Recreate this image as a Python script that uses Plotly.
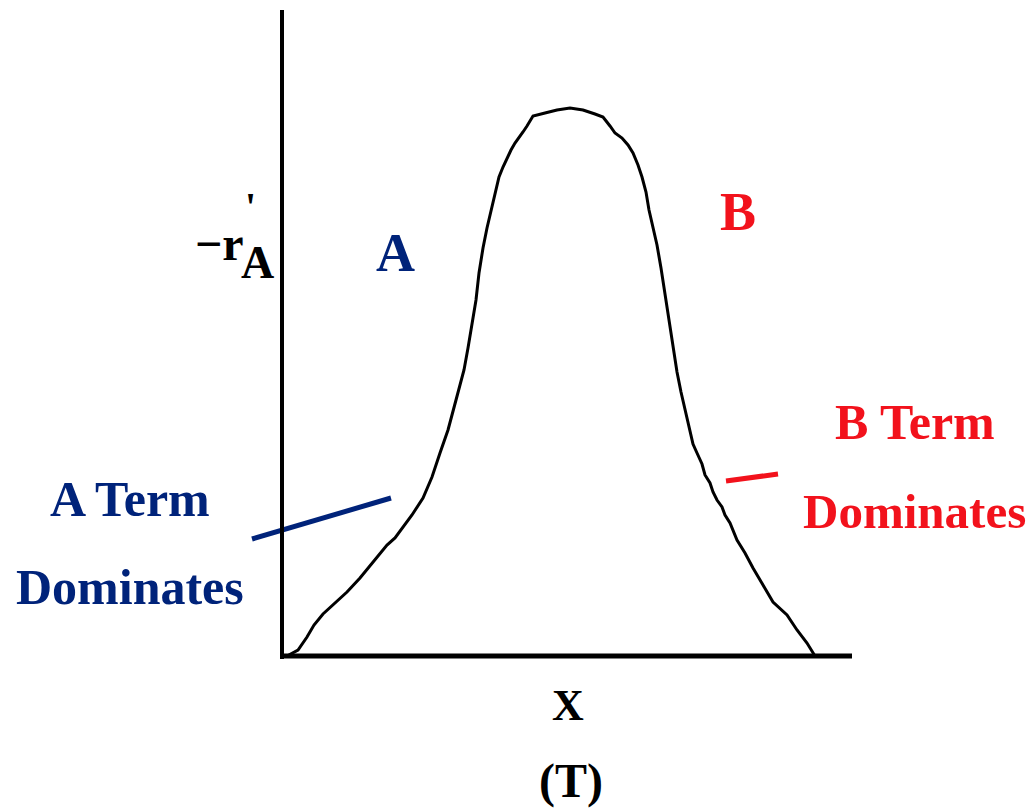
import plotly.graph_objects as go

# ---- data (units: pixels from the axis origin) ----
conversion = [4, 15, 24, 31, 40, 52, 64, 77, 90, 104, 112, 122, 129, 140, 149, 157, 165, 173, 181, 185,
              189, 193, 196, 200, 204, 208, 212, 216, 220, 224, 228, 232, 236, 240, 244, 250, 262, 274, 287, 300,
              312, 320, 327, 332, 339, 345, 350, 355, 359, 363, 366, 370, 374, 378, 382, 386, 390, 394, 398, 402,
              406, 410, 414, 419, 422, 427, 430, 434, 439, 442, 447, 454, 462, 470, 480, 490, 504, 514, 524, 532]
rate = [0, 6, 19, 31, 42, 53, 64, 78, 94, 111, 118, 131, 141, 158, 179, 203, 226, 256, 286, 308,
        331, 356, 383, 408, 428, 446, 464, 479, 489, 498, 506, 513, 518, 524, 530, 540, 543, 546, 548, 546,
        542, 539, 530, 523, 518, 511, 503, 491, 479, 464, 446, 428, 411, 388, 361, 338, 311, 284, 264, 246,
        228, 212, 203, 192, 181, 173, 164, 156, 149, 141, 133, 116, 103, 88, 71, 54, 41, 26, 13, 0]

pointer_a_x = [-31, 108]
pointer_a_y = [117, 158]
pointer_b_x = [443, 495]
pointer_b_y = [175, 182]

NAVY = "#00237A"
RED = "#F2121C"
FONT = "Liberation Serif"

# layout geometry: origin at pixel (283, 656) in a 1031x812 canvas
OX, OY, W, H = 283, 656, 1031, 812

fig = go.Figure()
fig.add_trace(go.Scatter(x=conversion, y=rate, mode="lines",
                         line=dict(color="black", width=3), hoverinfo="skip"))
fig.add_trace(go.Scatter(x=pointer_a_x, y=pointer_a_y, mode="lines",
                         line=dict(color=NAVY, width=5), hoverinfo="skip"))
fig.add_trace(go.Scatter(x=pointer_b_x, y=pointer_b_y, mode="lines",
                         line=dict(color=RED, width=5), hoverinfo="skip"))

# axes lines
fig.add_shape(type="line", x0=-1, x1=-1, y0=-3, y1=646, line=dict(color="black", width=4), xref="x", yref="y")
fig.add_shape(type="line", x0=-3, x1=569, y0=0, y1=0, line=dict(color="black", width=5), xref="x", yref="y")


def txt(s, px, py, size, color="black"):
    fig.add_annotation(x=px - OX, y=OY - py, text=s, showarrow=False,
                       xanchor="center", yanchor="middle",
                       font=dict(family=FONT, size=size, color=color, weight="bold"))


txt("A Term", 130, 499, 50, NAVY)
txt("Dominates", 130, 587, 50, NAVY)
txt("B Term", 915, 422, 50, RED)
txt("Dominates", 914, 511, 49, RED)
txt("A", 395, 253, 54, NAVY)
txt("B", 738, 212, 54, RED)
txt("\u2212r", 219, 243, 48)
txt("A", 257, 262, 46)
txt("'", 250, 206, 40)
txt("X", 568, 705, 44)
txt("(T)", 571, 781, 48)

fig.update_layout(
    width=W, height=H,
    margin=dict(l=0, r=0, t=0, b=0),
    paper_bgcolor="white", plot_bgcolor="white",
    showlegend=False,
    xaxis=dict(range=[-OX, W - OX], visible=False, fixedrange=True),
    yaxis=dict(range=[OY - H, OY], visible=False, fixedrange=True),
)

fig.write_html("out.html", config={"displayModeBar": False},
               post_script="document.body.style.margin='0';document.body.style.overflow='hidden';")
